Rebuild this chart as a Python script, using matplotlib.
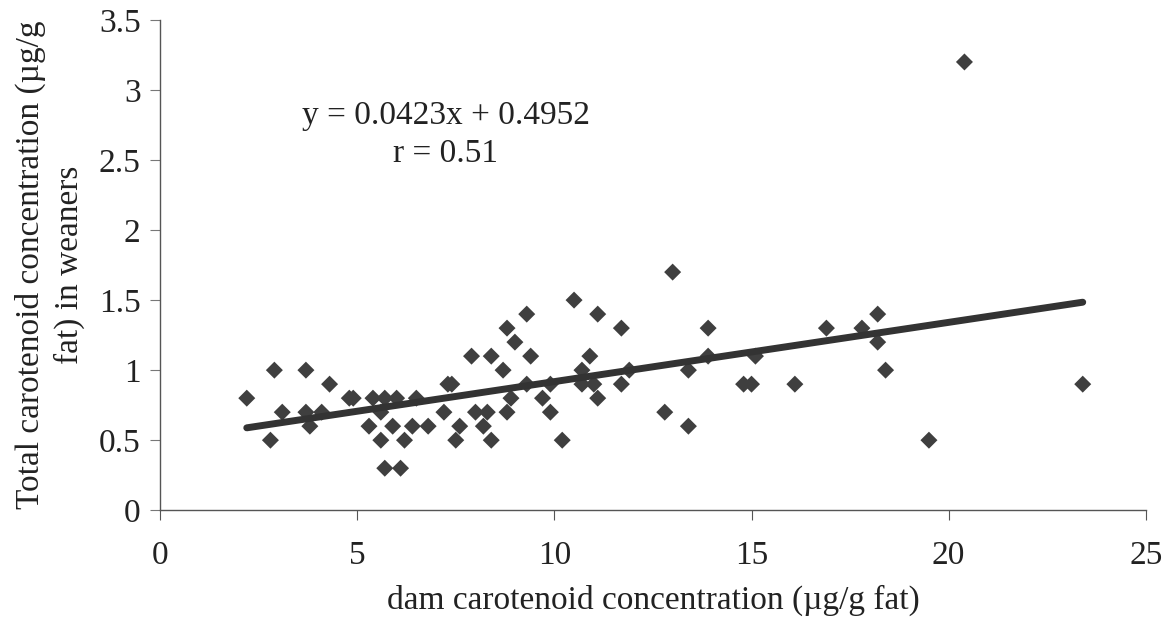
import numpy as np
import matplotlib
matplotlib.use("Agg")
import matplotlib.pyplot as plt

# dam vs weaner carotenoid concentration
dam_conc = [2.2, 2.8, 2.9, 3.1, 3.7, 3.7, 3.8, 4.1, 4.3, 4.8, 4.9, 5.3, 5.4, 5.6,
            5.6, 5.7, 5.7, 5.9, 6.0, 6.1, 6.2, 6.4, 6.5, 6.8, 7.2, 7.3, 7.4, 7.5,
            7.6, 7.9, 8.0, 8.2, 8.3, 8.4, 8.4, 8.7, 8.8, 8.8, 8.9, 9.0, 9.3, 9.3,
            9.4, 9.7, 9.9, 9.9, 10.2, 10.5, 10.7, 10.7, 10.9, 11.0, 11.1, 11.1,
            11.7, 11.7, 11.9, 12.8, 13.0, 13.4, 13.4, 13.9, 13.9, 14.8, 15.0,
            15.1, 16.1, 16.9, 17.8, 18.2, 18.2, 18.4, 19.5, 20.4, 23.4]
weaner_conc = [0.8, 0.5, 1.0, 0.7, 1.0, 0.7, 0.6, 0.7, 0.9, 0.8, 0.8, 0.6, 0.8, 0.7,
               0.5, 0.8, 0.3, 0.6, 0.8, 0.3, 0.5, 0.6, 0.8, 0.6, 0.7, 0.9, 0.9, 0.5,
               0.6, 1.1, 0.7, 0.6, 0.7, 1.1, 0.5, 1.0, 0.7, 1.3, 0.8, 1.2, 1.4, 0.9,
               1.1, 0.8, 0.7, 0.9, 0.5, 1.5, 1.0, 0.9, 1.1, 0.9, 1.4, 0.8,
               1.3, 0.9, 1.0, 0.7, 1.7, 1.0, 0.6, 1.3, 1.1, 0.9, 0.9,
               1.1, 0.9, 1.3, 1.3, 1.4, 1.2, 1.0, 0.5, 3.2, 0.9]

# fitted trend line as printed on the chart
slope = 0.0423
intercept = 0.4952
r_value = 0.51

x_ticks = [0, 5, 10, 15, 20, 25]
y_ticks = [0, 0.5, 1, 1.5, 2, 2.5, 3, 3.5]
y_tick_labels = ["0", "0.5", "1", "1.5", "2", "2.5", "3", "3.5"]

plt.rcParams['font.family'] = ['Liberation Serif', 'DejaVu Serif']
FS = 24

fig = plt.figure(figsize=(11.74, 6.23), dpi=100)
ax = fig.add_axes([0.1363, 0.181, 0.8397, 0.787])

ax.scatter(dam_conc, weaner_conc, marker='D', s=75, color='#3f3f3f',
           edgecolors='none', zorder=3)

x_fit = np.array([min(dam_conc), max(dam_conc)])
ax.plot(x_fit, slope * x_fit + intercept, color='#333333', linewidth=5,
        solid_capstyle='round', zorder=4)

ax.text(7.25, 2.68, f"y = {slope}x + {intercept}\nr = {r_value}", ha='center',
        va='center', fontsize=FS, linespacing=1.35, color='#222222')

ax.set_xlim(0, 25)
ax.set_ylim(0, 3.5)
ax.set_xticks(x_ticks)
ax.set_yticks(y_ticks)
ax.set_yticklabels(y_tick_labels)

for side in ['top', 'right']:
    ax.spines[side].set_visible(False)
for side in ['left', 'bottom']:
    ax.spines[side].set_color('#555555')
    ax.spines[side].set_linewidth(1.0)

ax.tick_params(axis='x', direction='out', length=7, width=0.8, colors='#555555',
               labelcolor='#222222', labelsize=FS, pad=15)
ax.tick_params(axis='y', direction='out', length=7, width=0.8, colors='#777777',
               labelcolor='#222222', labelsize=FS, pad=7)

ax.set_xlabel("dam carotenoid concentration (\u00b5g/g fat)", fontsize=FS,
              color='#222222', labelpad=10)
ax.set_ylabel("Total carotenoid concentration (\u00b5g/g\nfat) in weaners",
              fontsize=FS, color='#222222', labelpad=10, linespacing=1.3)

fig.savefig("out.png", dpi=100)
